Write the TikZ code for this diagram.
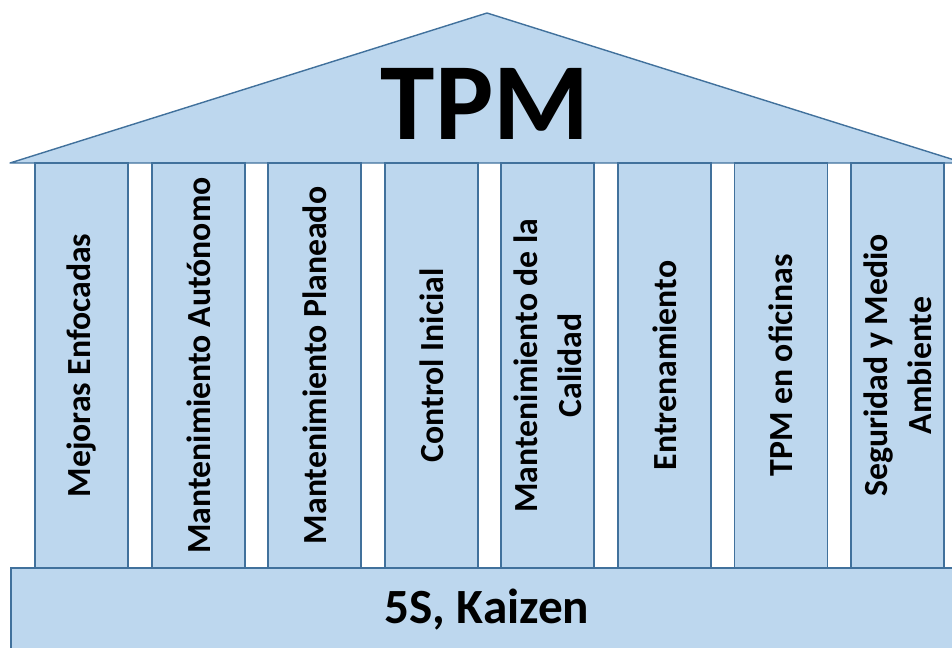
\documentclass[tikz,border=0pt]{standalone}
\usepackage{fontspec}
\setmainfont{Carlito}
\usepackage{tikz}
\usetikzlibrary{positioning}

\definecolor{roofblue}{HTML}{BDD7EE}
\definecolor{edgeblue}{HTML}{41719C}

\tikzset{
  part/.style={draw=edgeblue, fill=roofblue, line width=1pt},
  pillar/.style={part, rectangle, rotate=90, minimum width=10.125cm,
    minimum height=2.325cm, inner sep=0pt, align=center,
    font=\fontsize{24}{31}\selectfont\bfseries},
}

\begin{document}
\begin{tikzpicture}[x=0.025cm, y=-0.025cm]
    \useasboundingbox (0, 0) rectangle (952, 647);
    \clip (0, 0) rectangle (952, 647);

    % roof
    \draw [part, line join=round] (10, 163) -- (487, 13) -- (964, 163) -- cycle;
    \node [font=\fontsize{78}{84}\selectfont\bfseries] (title) at (485, 104) {TPM};

    % the eight pillars
    \node [pillar] (mejoras) at (81.5, 365.5) {Mejoras Enfocadas};
    \node [pillar] (autonomo) at (198.5, 365.5) {Mantenimiento Autónomo};
    \node [pillar] (planeado) at (314.5, 365.5) {Mantenimiento Planeado};
    \node [pillar] (control) at (431.5, 365.5) {Control Inicial};
    \node [pillar] (calidad) at (547.5, 365.5) {Mantenimiento de la\\Calidad};
    \node [pillar] (entrena) at (664.5, 365.5) {Entrenamiento};
    \node [pillar] (oficinas) at (781, 365.5) {TPM en oficinas};
    \node [pillar] (seguridad) at (897.5, 365.5) {Seguridad y Medio\\Ambiente};

    % base
    \node [part, minimum width=23.8cm, minimum height=2.1cm, inner sep=0pt,
      font=\fontsize{35}{40}\selectfont\bfseries] (base) at (487, 610) {5S, Kaizen};
\end{tikzpicture}
\end{document}
